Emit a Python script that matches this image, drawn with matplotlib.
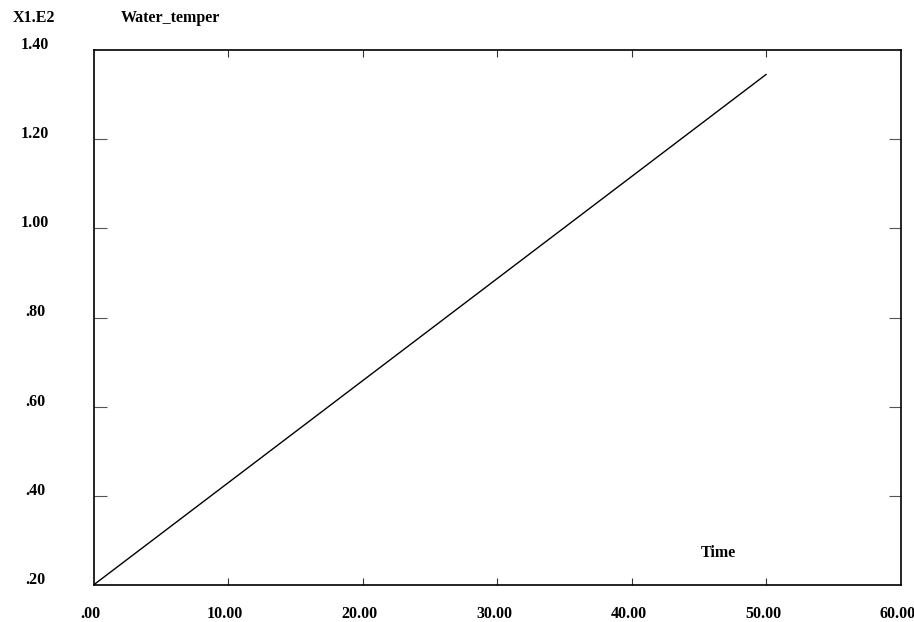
import matplotlib
matplotlib.use("Agg")
import matplotlib.pyplot as plt
import matplotlib.transforms as mtransforms
from matplotlib.ticker import FixedLocator

plt.rcParams["font.family"] = ["Liberation Serif", "DejaVu Serif"]
plt.rcParams["font.weight"] = "bold"

# data (values in units of 1e2)
time = [0.0, 50.0]
water_temp = [0.20, 1.345]

x_ticks = [0, 10, 20, 30, 40, 50, 60]
x_labels = [".00", "10.00", "20.00", "30.00", "40.00", "50.00", "60.00"]
y_ticks = [0.20, 0.40, 0.60, 0.80, 1.00, 1.20, 1.40]
y_labels = [".20", ".40", ".60", ".80", "1.00", "1.20", "1.40"]

W, H = 914, 622
fig = plt.figure(figsize=(W / 100, H / 100), dpi=100, facecolor="white")
# axes box in pixels: left 93.5, right 900.5, top 50, bottom 585
ax = fig.add_axes([93.5 / W, 1 - 585 / H, (900.5 - 93.5) / W, (585 - 50) / H])

ax.plot(time, water_temp, color="black", lw=1.0)

ax.set_xlim(0, 60)
ax.set_ylim(0.20, 1.40)

ax.xaxis.set_major_locator(FixedLocator(x_ticks))
ax.yaxis.set_major_locator(FixedLocator(y_ticks))
ax.set_xticklabels(x_labels, fontsize=11.5, fontweight="bold")
ax.set_yticklabels(y_labels, fontsize=11.5, fontweight="bold", ha="center")

ax.tick_params(axis="x", direction="in", length=5, width=0.8, color="#333333",
               top=True, pad=15)
ax.tick_params(axis="y", direction="in", length=9, width=0.8, color="#555555",
               right=True, pad=42)

# small nudges so labels sit like the original
up = mtransforms.ScaledTranslation(0, 5 / 100, fig.dpi_scale_trans)
for lab in ax.get_yticklabels():
    lab.set_va("center")
    lab.set_transform(lab.get_transform() + up)
left = mtransforms.ScaledTranslation(-3 / 100, 0, fig.dpi_scale_trans)
for lab in ax.get_xticklabels():
    lab.set_transform(lab.get_transform() + left)

# hide end ticks that fall on the frame
for t in ax.xaxis.get_major_ticks():
    if t.get_loc() in (0, 60):
        t.tick1line.set_visible(False)
        t.tick2line.set_visible(False)
for t in ax.yaxis.get_major_ticks():
    if t.get_loc() in (0.20, 1.40):
        t.tick1line.set_visible(False)
        t.tick2line.set_visible(False)

for sp in ax.spines.values():
    sp.set_linewidth(1.2)
    sp.set_color("black")

fig.text(34 / W, 1 - 18 / H, "X1.E2", ha="center", va="center",
         fontsize=11.5, fontweight="bold")
fig.text(121 / W, 1 - 18 / H, "Water_temper", ha="left", va="center",
         fontsize=11.5, fontweight="bold")
ax.text(46.5, 0.272, "Time", ha="center", va="center",
        fontsize=11.5, fontweight="bold")

fig.savefig("out.png", dpi=100, facecolor="white")
